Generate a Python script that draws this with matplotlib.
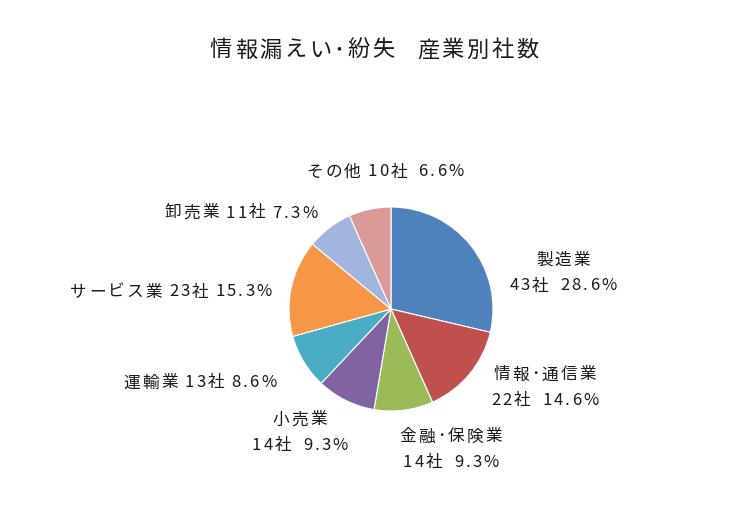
import matplotlib
matplotlib.use("Agg")
import matplotlib.pyplot as plt

plt.rcParams['font.family'] = ['Noto Sans CJK JP', 'DejaVu Sans']

title = "情報漏えい･紛失　産業別社数"
industries = ["製造業", "情報･通信業", "金融･保険業", "小売業", "運輸業", "サービス業", "卸売業", "その他"]
counts = [43, 22, 14, 14, 13, 23, 11, 10]
percents = [28.6, 14.6, 9.3, 9.3, 8.6, 15.3, 7.3, 6.6]
colors = ["#4F81BD", "#C0504D", "#9BBB59", "#8064A2", "#4BACC6", "#F79646", "#A2B5DC", "#D99A98"]

# label layout: (x_px, y_px of first line, two_lines)
label_layout = [
    (563, 260, True),
    (545, 375, True),
    (451, 437, True),
    (300, 420, True),
    (200, 383, False),
    (171, 292, False),
    (241, 213, False),
    (385, 172, False),
]

W, H = 740, 510
fig = plt.figure(figsize=(W / 100, H / 100), dpi=100)
ax = fig.add_axes([0, 0, 1, 1])
ax.axis('off')

cx, cy, r = 391, 310, 102
ax.pie(counts, colors=colors, startangle=90, counterclock=False,
       center=(cx, H - cy), radius=r,
       wedgeprops=dict(edgecolor='white', linewidth=0.8))
ax.set_xlim(0, W)
ax.set_ylim(0, H)
ax.set_aspect('equal')

renderer = fig.canvas.get_renderer()
_cache = {}


def char_width(ch, size):
    key = (ch, size)
    if key not in _cache:
        if ch == ' ':
            _cache[key] = size * 0.2
        elif ch == '　':
            _cache[key] = size * 1.1
        else:
            t = ax.text(0, 0, ch, fontsize=size)
            bb = t.get_window_extent(renderer)
            t.remove()
            _cache[key] = bb.width
    return _cache[key]


def spaced_text(x, y, s, size, track, color='#1a1a1a'):
    widths = [char_width(ch, size) for ch in s]
    total = sum(widths) + track * (len(s) - 1)
    pos = x - total / 2
    for ch, w in zip(s, widths):
        if ch not in (' ', '　'):
            ax.text(pos + w / 2, H - y, ch, fontsize=size, ha='center',
                    va='center', color=color)
        pos += w + track


LS, LT = 12, 2.2
for name, c, p, (lx, ly, two) in zip(industries, counts, percents, label_layout):
    if two:
        spaced_text(lx, ly, name, LS, LT)
        spaced_text(lx, ly + 26, f"{c}社  {p}%", LS, LT)
    else:
        sep = "  " if name == "その他" else " "
        spaced_text(lx, ly, f"{name} {c}社{sep}{p}%", LS, LT)

spaced_text(374, 50, title, 16, 2.5)

fig.savefig("out.png", dpi=100, facecolor='white')
